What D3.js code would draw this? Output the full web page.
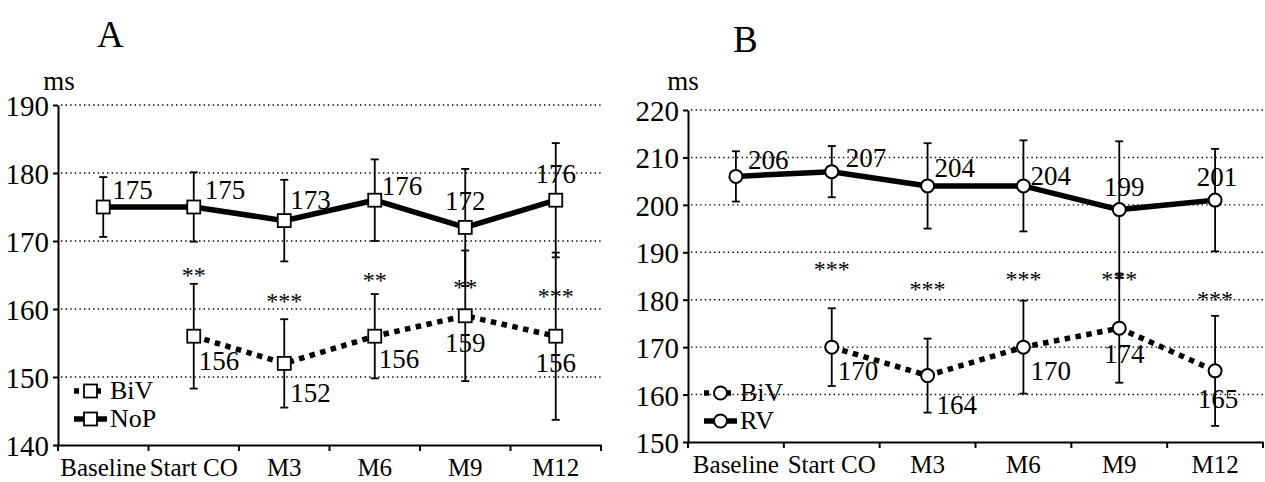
<!DOCTYPE html>
<html>
<head>
<meta charset="utf-8">
<script src="https://cdn.jsdelivr.net/npm/d3@7/dist/d3.min.js"></script>
<style>
  body { margin: 0; background: #fff; }
  svg text { font-family: "Liberation Serif", "Times New Roman", Times, "DejaVu Serif", serif; fill: #000; }
  .grid line { stroke: #000; stroke-width: 1.4; stroke-dasharray: 1.4,3.2; }
  .axis path, .axis line { stroke: #000; stroke-width: 2; }
</style>
</head>
<body>
<svg id="chart" width="1265" height="482"></svg>
<script>
// categories on the x axis (both panels)
var categories = ["Baseline", "Start CO", "M3", "M6", "M9", "M12"];

// panel A
var ticksA = [140, 150, 160, 170, 180, 190];
var nopMean = [175, 175, 173, 176, 172, 176];
var nopErr = [4.4, 5.1, 6.0, 6.0, 8.6, 8.4];
var bivAMean = [null, 156, 152, 156, 159, 156];
var bivAErr = [null, 7.7, 6.5, 6.2, 9.6, 12.3];
var starsA = [null, "**", "***", "**", "**", "***"];
var starsAValue = [null, 165.6, 161.8, 164.9, 163.8, 162.5];

// panel B
var ticksB = [150, 160, 170, 180, 190, 200, 210, 220];
var rvMean = [206, 207, 204, 204, 199, 201];
var rvErr = [5.3, 5.4, 9.0, 9.6, 14.4, 10.8];
var bivBMean = [null, 170, 164, 170, 174, 165];
var bivBErr = [null, 8.2, 7.8, 9.8, 11.5, 11.6];
var starsB = [null, "***", "***", "***", "***", "***"];
var starsBValue = [null, 187.3, 183.1, 185.2, 185.2, 181.0];

var FONT = '"Liberation Serif", "Times New Roman", Times, serif';
var svg = d3.select("#chart");

function Panel(opt){
	var x = d3.scaleBand().domain(categories).range([opt.l, opt.r]).padding(0);
	var y = d3.scaleLinear().domain([opt.ticks[0], opt.ticks[opt.ticks.length - 1]]).range([opt.b, opt.t]);
	var cx = function(i){ return x(categories[i]) + x.bandwidth() / 2; };

	var g = svg.append("g").attr("font-family", FONT);

	// title and unit
	g.append("text").attr("x", opt.titleX).attr("y", opt.titleY)
		.style("font-size", "37px").text(opt.title);
	g.append("text").attr("x", opt.msX).attr("y", 90).attr("text-anchor", "middle")
		.style("font-size", "27px").text("ms");

	// dotted gridlines
	g.append("g").attr("class", "grid").selectAll("line")
		.data(opt.ticks.slice(1)).enter().append("line")
		.attr("x1", opt.l + 3).attr("x2", opt.r)
		.attr("y1", function(d){ return y(d); })
		.attr("y2", function(d){ return y(d); });

	// axes
	var axisY = d3.axisLeft(y).tickValues(opt.ticks).tickSize(5).tickSizeOuter(0).tickPadding(4);
	var gy = g.append("g").attr("class", "axis").attr("transform", "translate(" + opt.l + ",0)")
		.call(axisY);
	gy.attr("font-family", FONT);
	gy.selectAll("text").style("font-size", "29px").style("font-family", FONT).attr("dy", "0.36em");

	var axisX = d3.axisBottom(x).tickSize(0).tickSizeOuter(0).tickPadding(13);
	var gx = g.append("g").attr("class", "axis").attr("transform", "translate(0," + opt.b + ")")
		.call(axisX);
	gx.attr("font-family", FONT);
	gx.selectAll("text").style("font-size", "25px").style("font-family", FONT);
	gx.selectAll(".bound").data(categories.map(function(c){ return x(c); }).concat([opt.r]))
		.enter().append("line").attr("class", "bound")
		.attr("x1", function(d){ return d; }).attr("x2", function(d){ return d; })
		.attr("y1", 0).attr("y2", 6);

	// series
	opt.series.forEach(function(s){
		var pts = s.mean.map(function(m, i){ return {i: i, m: m, e: s.err[i]}; })
			.filter(function(d){ return d.m != null; });

		var eb = g.append("g").attr("class", "err").attr("stroke", "#000").attr("stroke-width", 1.8);
		eb.selectAll(".v").data(pts).enter().append("line")
			.attr("x1", function(d){ return cx(d.i); }).attr("x2", function(d){ return cx(d.i); })
			.attr("y1", function(d){ return y(d.m - d.e); }).attr("y2", function(d){ return y(d.m + d.e); });
		[-1, 1].forEach(function(k){
			eb.selectAll(".c" + k).data(pts).enter().append("line")
				.attr("x1", function(d){ return cx(d.i) - 4; }).attr("x2", function(d){ return cx(d.i) + 4; })
				.attr("y1", function(d){ return y(d.m + k * d.e); }).attr("y2", function(d){ return y(d.m + k * d.e); });
		});

		var line = d3.line().x(function(d){ return cx(d.i); }).y(function(d){ return y(d.m); });
		g.append("path").datum(pts).attr("d", line)
			.attr("fill", "none").attr("stroke", "#000").attr("stroke-width", 5.5)
			.attr("stroke-dasharray", s.dashed ? "5.5,5.5" : null);

		drawMarkers(g, pts, cx, y, opt.marker);

		g.selectAll(null).data(pts).enter().append("text")
			.attr("x", function(d){ return cx(d.i) + s.place[d.i][0]; })
			.attr("y", function(d){ return y(d.m) + s.place[d.i][1]; })
			.attr("text-anchor", function(d){ return s.place[d.i][2]; })
			.style("font-size", "27px")
			.text(function(d){ return d.m; });
	});

	// significance stars
	var st = opt.stars.map(function(s, i){ return {i: i, s: s, v: opt.starsValue[i]}; })
		.filter(function(d){ return d.s; });
	g.selectAll(null).data(st).enter().append("text")
		.attr("x", function(d){ return cx(d.i); })
		.attr("y", function(d){ return y(d.v) + 12; })
		.attr("text-anchor", "middle").style("font-size", "24px")
		.text(function(d){ return d.s; });

	// legend
	var lg = g.append("g").attr("transform", "translate(" + (opt.l + 16) + ",0)");
	opt.series.forEach(function(s){
		var yy = s.legendY;
		lg.append("line").attr("x1", 0).attr("x2", 33).attr("y1", yy).attr("y2", yy)
			.attr("stroke", "#000").attr("stroke-width", 5.5)
			.attr("stroke-dasharray", s.dashed ? "5,6" : null);
		drawMarkers(lg, [{i: 0, m: 0}], function(){ return 16.5; }, function(){ return yy; }, opt.marker);
		lg.append("text").attr("x", 36).attr("y", yy + 8).style("font-size", "26px").text(s.name);
	});
}

function drawMarkers(g, pts, cx, y, kind){
	if (kind === "square") {
		g.selectAll(null).data(pts).enter().append("rect")
			.attr("x", function(d){ return cx(d.i) - 6.5; })
			.attr("y", function(d){ return y(d.m) - 6.5; })
			.attr("width", 13).attr("height", 13)
			.attr("fill", "#fff").attr("stroke", "#000").attr("stroke-width", 1.8);
	} else {
		g.selectAll(null).data(pts).enter().append("circle")
			.attr("cx", function(d){ return cx(d.i); })
			.attr("cy", function(d){ return y(d.m); })
			.attr("r", 6.5)
			.attr("fill", "#fff").attr("stroke", "#000").attr("stroke-width", 2);
	}
}

Panel({
	title: "A", titleX: 97, titleY: 47, msX: 59,
	l: 58, r: 601, t: 105, b: 445,
	ticks: ticksA, marker: "square",
	stars: starsA, starsValue: starsAValue,
	series: [
		{name: "BiV", mean: bivAMean, err: bivAErr, dashed: true, legendY: 391,
		 place: [null, [5, 34, "start"], [6, 39, "start"], [4, 32, "start"], [0, 36, "middle"], [0, 36, "middle"]]},
		{name: "NoP", mean: nopMean, err: nopErr, dashed: false, legendY: 419,
		 place: [[9, -8, "start"], [11, -8, "start"], [6, -12, "start"], [7, -5, "start"], [0, -17, "middle"], [0, -17, "middle"]]}
	]
});

Panel({
	title: "B", titleX: 733, titleY: 52, msX: 683,
	l: 688, r: 1263, t: 110, b: 442,
	ticks: ticksB, marker: "circle",
	stars: starsB, starsValue: starsBValue,
	series: [
		{name: "BiV", mean: bivBMean, err: bivBErr, dashed: true, legendY: 393,
		 place: [null, [6, 33, "start"], [9, 38, "start"], [7, 33, "start"], [5, 35, "middle"], [3, 37, "middle"]]},
		{name: "RV", mean: rvMean, err: rvErr, dashed: false, legendY: 421,
		 place: [[12, -7, "start"], [14, -5, "start"], [7, -9, "start"], [7, -1, "start"], [5, -14, "middle"], [2, -14, "middle"]]}
	]
});
</script>
</body>
</html>
